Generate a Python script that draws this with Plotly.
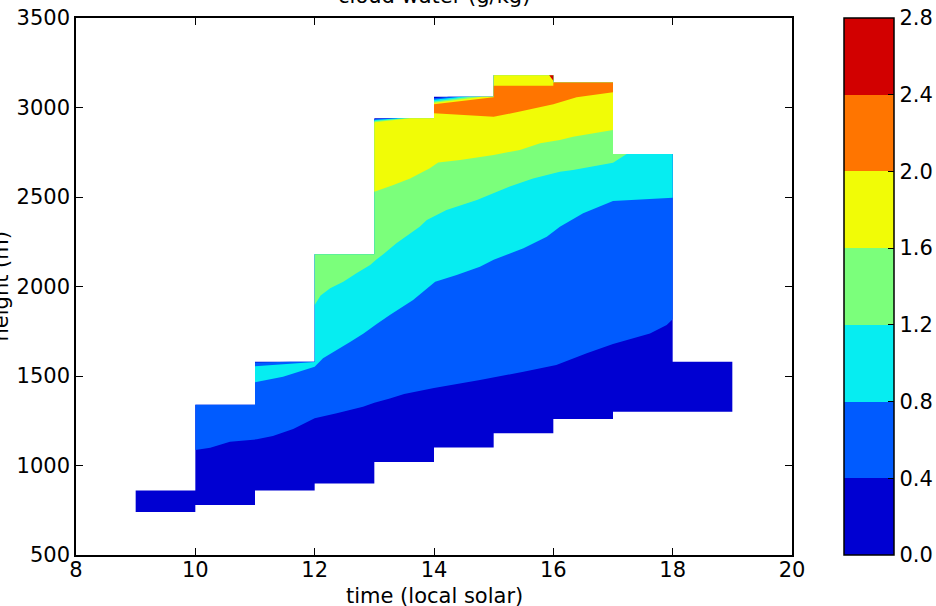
import plotly.graph_objects as go

# ---------------- data ----------------
# hourly cloud columns (start hour), cloud base and cloud top (m)
col_start = [9, 10, 11, 12, 13, 14, 15, 16, 17, 18]
cloud_base = [740, 780, 860, 900, 1020, 1100, 1180, 1260, 1300, 1300]
cloud_top = [860, 1340, 1580, 2180, 2940, 3060, 3180, 3140, 2740, 1580]

# contour lines (lower boundary of the region where cloud water >= level)
c04_t = [10.0, 10.25, 10.58, 11.03, 11.3, 11.64, 12.0, 12.37, 12.81, 13.0, 13.26, 13.5, 14.0, 14.77, 15.5, 16.05, 16.56, 17.0, 17.62, 17.9, 18.0]
c04_h = [1087, 1099, 1133, 1146, 1165, 1204, 1264, 1292, 1328, 1350, 1375, 1400, 1433, 1478, 1524, 1561, 1627, 1679, 1738, 1785, 1817]

c08_t = [11.0, 11.47, 12.0, 12.14, 12.37, 12.6, 12.82, 13.04, 13.26, 13.65, 14.02, 14.38, 14.77, 15.0, 15.5, 15.89, 16.11, 16.5, 17.0, 18.0]
c08_h = [1465, 1496, 1552, 1599, 1645, 1692, 1738, 1790, 1841, 1925, 2027, 2064, 2111, 2150, 2213, 2278, 2334, 2409, 2478, 2496]

c12_t = [12.0, 12.1, 12.26, 12.48, 12.7, 12.93, 13.03, 13.15, 13.37, 13.76, 13.88, 14.21, 14.72, 15.27, 15.66, 16.11, 16.33, 17.0, 17.23]
c12_h = [1897, 1950, 1990, 2027, 2074, 2120, 2150, 2180, 2241, 2334, 2371, 2427, 2483, 2558, 2604, 2641, 2651, 2692, 2740]

c16_t = [13.0, 13.32, 13.6, 13.93, 14.07, 14.44, 15.0, 15.44, 15.78, 16.11, 16.33, 17.0]
c16_h = [2530, 2567, 2604, 2660, 2693, 2707, 2735, 2763, 2800, 2818, 2837, 2874]

c20_t = [14.0, 15.0, 15.44, 16.0, 16.39, 17.0]
c20_h = [2968, 2949, 2977, 3018, 3057, 3085]

# upper boundaries of those regions (just below the cloud top)
top04_t = [10, 11, 11, 11.6, 12, 12, 13, 13, 13.3, 14, 14, 14.25, 15, 15, 16, 16, 17, 17, 18]
top04_h = [1340, 1340, 1575, 1580, 1580, 2180, 2180, 2936, 2940, 2940, 3051, 3060, 3060, 3180, 3180, 3140, 3140, 2740, 2740]
top08_t = [11, 12, 12, 13, 13, 13.4, 14, 14, 14.45, 15, 15, 16, 16, 17, 17, 18]
top08_h = [1555, 1578, 2180, 2180, 2930, 2940, 2940, 3043, 3060, 3060, 3180, 3180, 3140, 3140, 2740, 2740]
top12_t = [12, 13, 13, 13.5, 14, 14, 14.6, 15, 15, 16, 16, 17, 17, 17.23]
top12_h = [2180, 2180, 2924, 2940, 2940, 3033, 3060, 3060, 3180, 3180, 3140, 3140, 2740, 2740]
top16_t = [13, 13.6, 14, 14, 14.8, 15, 15, 16, 16, 17]
top16_h = [2918, 2940, 2940, 3027, 3060, 3060, 3180, 3180, 3140, 3140]
top20_t = [14, 15, 15, 16, 16, 17]
top20_h = [3018, 3057, 3122, 3122, 3140, 3140]

# small region >= 2.4
c24_t = [15.93, 16.0, 16.0]
c24_h = [3180, 3180, 3150]

levels = [0.0, 0.4, 0.8, 1.2, 1.6, 2.0, 2.4, 2.8]
tick_labels = ["0.0", "0.4", "0.8", "1.2", "1.6", "2.0", "2.4", "2.8"]
band_colors = ["rgb(0,0,210)", "rgb(0,91,255)", "rgb(6,237,241)", "rgb(123,255,123)",
               "rgb(241,252,6)", "rgb(255,117,0)", "rgb(210,0,0)"]

x_ticks = [8, 10, 12, 14, 16, 18, 20]
y_ticks = [500, 1000, 1500, 2000, 2500, 3000, 3500]

FONT = "DejaVu Sans"
FS = 21

# ---------------- figure ----------------
fig = go.Figure()

def add_poly(xs, ys, color):
    fig.add_trace(go.Scatter(x=xs, y=ys, mode="none", fill="toself", fillcolor=color,
                             hoverinfo="skip", showlegend=False))

# whole cloud (lowest band)
cx, cy = [], []
for t0, b in zip(col_start, cloud_base):
    cx += [t0, t0 + 1]
    cy += [b, b]
for t0, tp in reversed(list(zip(col_start, cloud_top))):
    cx += [t0 + 1, t0]
    cy += [tp, tp]
add_poly(cx, cy, band_colors[0])

regions = [
    (c04_t, c04_h, top04_t, top04_h),
    (c08_t, c08_h, top08_t, top08_h),
    (c12_t, c12_h, top12_t, top12_h),
    (c16_t, c16_h, top16_t, top16_h),
    (c20_t, c20_h, top20_t, top20_h),
]
for k, (lt, lh, tt, th) in enumerate(regions, start=1):
    add_poly(list(lt) + list(reversed(tt)), list(lh) + list(reversed(th)), band_colors[k])
add_poly(c24_t, c24_h, band_colors[6])

# colorbar
n = len(band_colors)
cscale = []
for i, c in enumerate(band_colors):
    cscale += [[i / n, c], [(i + 1) / n, c]]
fig.add_trace(go.Scatter(
    x=[None], y=[None], mode="markers", hoverinfo="skip", showlegend=False,
    marker=dict(color=[0], cmin=levels[0], cmax=levels[-1], colorscale=cscale, showscale=True,
                colorbar=dict(thickness=50, thicknessmode="pixels", len=537, lenmode="pixels",
                              x=(844 - 76) / 716, xanchor="left", xpad=0,
                              y=0.5, yanchor="middle", ypad=0,
                              outlinewidth=1.5, outlinecolor="black",
                              tickvals=levels, ticktext=tick_labels, ticks="inside",
                              ticklen=6, tickwidth=1.2, tickcolor="black",
                              tickfont=dict(size=FS, family=FONT, color="black")))))

axis_common = dict(ticks="inside", ticklen=7, tickwidth=1.3, tickcolor="black",
                   showline=True, linewidth=1.5, linecolor="black", mirror="allticks",
                   showgrid=False, zeroline=False, automargin=False,
                   tickfont=dict(size=FS, family=FONT, color="black"))

fig.update_layout(
    width=936, height=606,
    margin=dict(l=76, r=144, t=18, b=51, pad=0, autoexpand=False),
    paper_bgcolor="white", plot_bgcolor="white",
    font=dict(family=FONT, size=FS, color="black"),
    xaxis=dict(range=[8, 20], tickvals=x_ticks, ticklabelstandoff=-5, **axis_common),
    yaxis=dict(range=[500, 3500], tickvals=y_ticks, **axis_common),
    annotations=[
        dict(text="cloud water (g/kg)", x=0.5, y=1 + (18 + 4) / 537, xref="paper", yref="paper",
             xanchor="center", yanchor="middle", showarrow=False,
             font=dict(size=FS, family=FONT, color="black")),
        dict(text="time (local solar)", x=0.5, y=-(596 - 555) / 537, xref="paper", yref="paper",
             xanchor="center", yanchor="middle", showarrow=False,
             font=dict(size=FS, family=FONT, color="black")),
        dict(text="height (m)", x=-(76 - 0) / 716, y=0.5, xref="paper", yref="paper",
             xanchor="center", yanchor="middle", textangle=-90, showarrow=False,
             font=dict(size=FS, family=FONT, color="black")),
    ],
)

fig.write_html("out.html")
